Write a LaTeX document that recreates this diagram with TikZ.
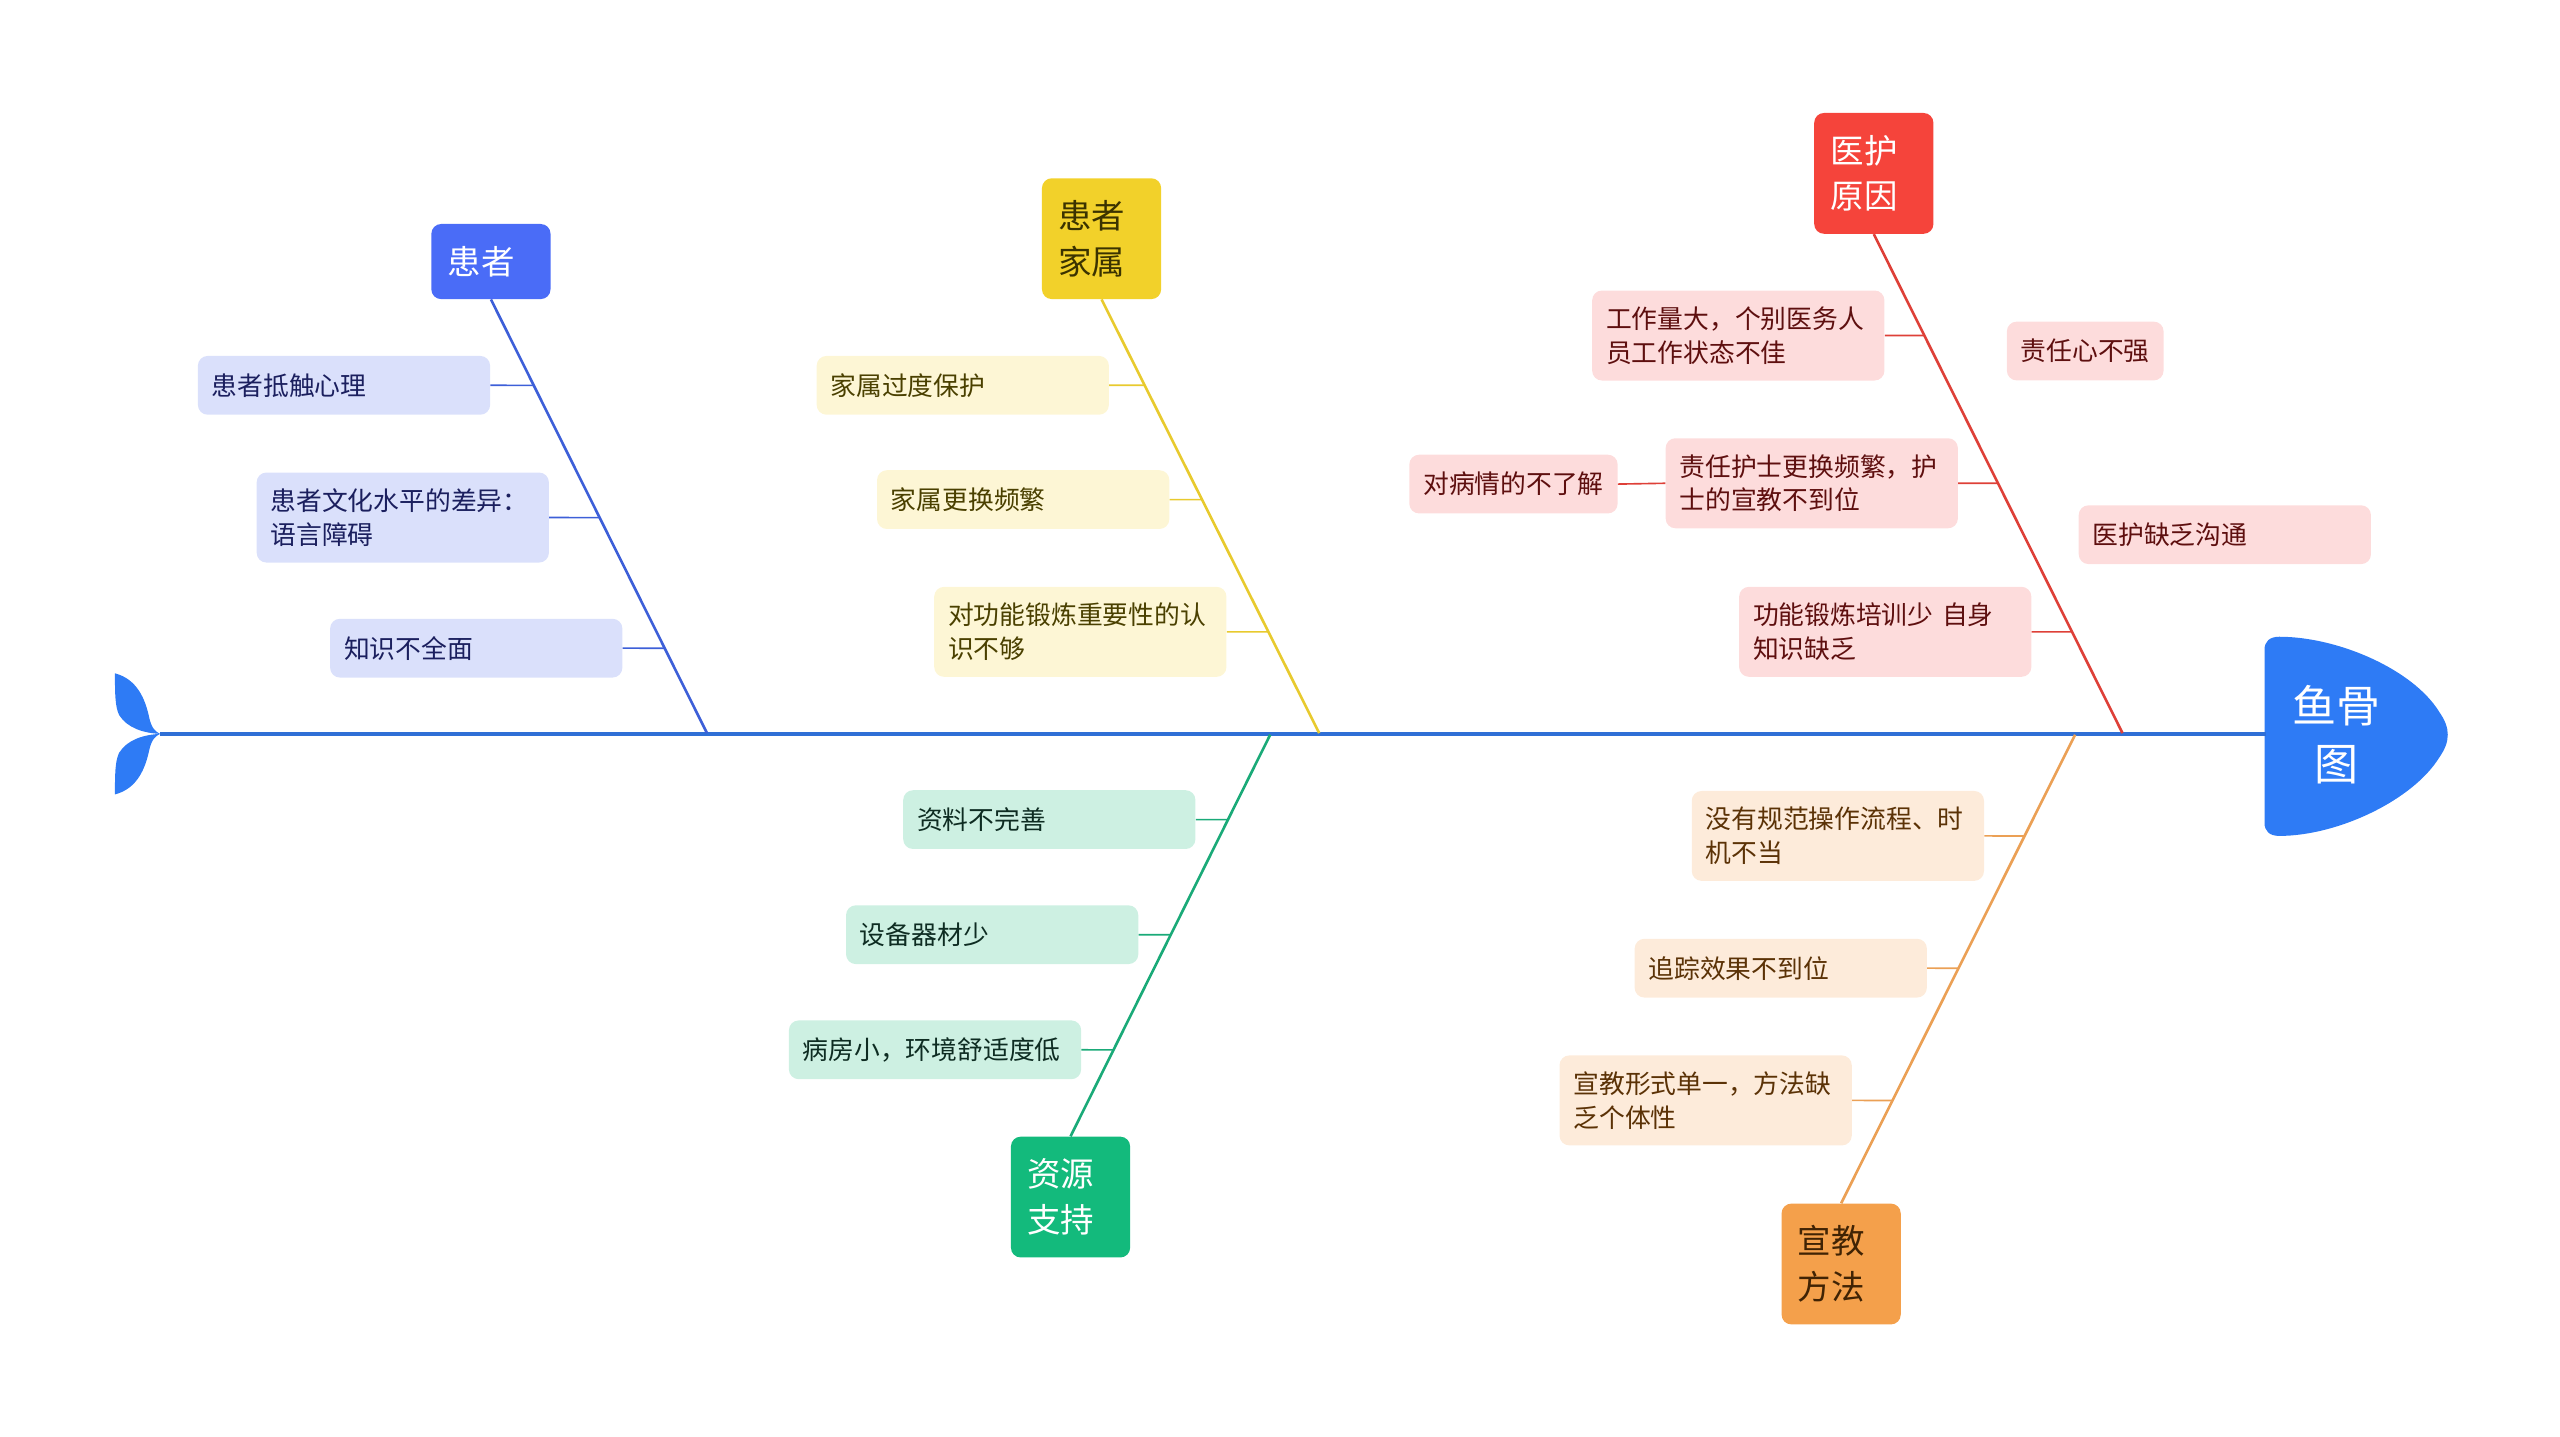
\documentclass[tikz,border=0pt]{standalone}
\usepackage{fontspec}
\setmainfont{Noto Sans CJK SC}
\usepackage{tikz}

\definecolor{spineblue}{HTML}{2F6FD6}
\definecolor{headblue}{HTML}{2E7BF5}
\definecolor{pdark}{HTML}{4A6CF7}
\definecolor{pline}{HTML}{3D5FD8}
\definecolor{plight}{HTML}{DAE0FB}
\definecolor{ptext}{HTML}{1B1F5E}
\definecolor{fdark}{HTML}{F2D12A}
\definecolor{fline}{HTML}{E8CA2E}
\definecolor{flight}{HTML}{FDF6D5}
\definecolor{ftext}{HTML}{4A4000}
\definecolor{ndark}{HTML}{F5443B}
\definecolor{nline}{HTML}{DE4038}
\definecolor{nlight}{HTML}{FDDCDC}
\definecolor{ntext}{HTML}{5E0F0F}
\definecolor{rdark}{HTML}{13BA7C}
\definecolor{rline}{HTML}{1AAA78}
\definecolor{rlight}{HTML}{CDF0E2}
\definecolor{rtext}{HTML}{0E2C22}
\definecolor{edark}{HTML}{F4A04B}
\definecolor{eline}{HTML}{EBA055}
\definecolor{elight}{HTML}{FDEBDA}
\definecolor{etext}{HTML}{5B3206}

\tikzset{
  cat/.style={rounded corners=6pt, anchor=north west, text width=53pt, inner xsep=10pt, align=left, font=\fontsize{20.5}{28}\selectfont},
  cause/.style={rounded corners=6pt, anchor=west, inner xsep=8.5pt, inner ysep=10pt, minimum height=36pt, align=left, font=\fontsize{15.8}{20.5}\selectfont},
  wide/.style={cause, text width=162pt},
  bone/.style={line width=1.6pt},
  twig/.style={line width=1pt}
}

\begin{document}
\begin{tikzpicture}[x=1pt, y=-1pt]
\useasboundingbox (0,0) rectangle (1568,880);
% tail
\fill[headblue] (70.4,412.4) .. controls (84,416) and (89,428) .. (91.5,440) .. controls (93,446) and (95,448) .. (98,449.5) .. controls (88,449) and (78,446) .. (73,438) .. controls (70.5,433) and (70.4,425) .. cycle;
\fill[headblue] (70.4,486.6) .. controls (84,483) and (89,471) .. (91.5,459) .. controls (93,453) and (95,451) .. (98,449.5) .. controls (88,450) and (78,453) .. (73,461) .. controls (70.5,466) and (70.4,474) .. cycle;
% head
\fill[headblue] (1387,398) .. controls (1387,393) and (1390,390) .. (1396,390) .. controls (1432,390) and (1478,410) .. (1494,436) .. controls (1501,446) and (1501,454) .. (1494,464) .. controls (1478,490) and (1432,512) .. (1396,512) .. controls (1390,512) and (1387,509) .. (1387,504) -- cycle;
\node[text=white, align=center, font=\fontsize{27}{35}\selectfont] (head) at (1431,450) {鱼骨\\图};

\coordinate (tail) at (98,449.5);
\coordinate (neck) at (1388,449.5);
\draw[spineblue, line width=2.2pt] (tail) -- (neck);

\coordinate (pfoot) at (433,449);
\coordinate (ffoot) at (808,449);
\coordinate (nfoot) at (1300,449);
\coordinate (rfoot) at (778,450);
\coordinate (efoot) at (1271,450);

% categories
\node[cat, fill=pdark, text=white, minimum height=46pt] (pcat) at (264,137) {患者};
\node[cat, fill=fdark, text=ftext!80!black, minimum height=74pt] (fcat) at (638,109) {患者\\家属};
\node[cat, fill=ndark, text=white, minimum height=74pt] (ncat) at (1111,69) {医护\\原因};
\node[cat, fill=rdark, text=white, minimum height=74pt] (rcat) at (619,696) {资源\\支持};
\node[cat, fill=edark, text=etext!70!black, minimum height=74pt] (ecat) at (1091,737) {宣教\\方法};

\draw[bone, pline] (pcat.south) -- (pfoot);
\draw[bone, fline] (fcat.south) -- (ffoot);
\draw[bone, nline] (ncat.south) -- (nfoot);
\draw[bone, rline] (rcat.north) -- (rfoot);
\draw[bone, eline] (ecat.north) -- (efoot);

% patient
\node[wide, fill=plight, text=ptext] (p1) at (121,236) {患者抵触心理};
\node[wide, fill=plight, text=ptext] (p2) at (157,317) {患者文化水平的差异：\\语言障碍};
\node[wide, fill=plight, text=ptext] (p3) at (202,397) {知识不全面};
\draw[twig, pline] (p1.east) -- (intersection of p1.west--p1.east and pcat.south--pfoot);
\draw[twig, pline] (p2.east) -- (intersection of p2.west--p2.east and pcat.south--pfoot);
\draw[twig, pline] (p3.east) -- (intersection of p3.west--p3.east and pcat.south--pfoot);

% family
\node[wide, fill=flight, text=ftext] (f1) at (500,236) {家属过度保护};
\node[wide, fill=flight, text=ftext] (f2) at (537,306) {家属更换频繁};
\node[wide, fill=flight, text=ftext] (f3) at (572,387) {对功能锻炼重要性的认\\识不够};
\draw[twig, fline] (f1.east) -- (intersection of f1.west--f1.east and fcat.south--ffoot);
\draw[twig, fline] (f2.east) -- (intersection of f2.west--f2.east and fcat.south--ffoot);
\draw[twig, fline] (f3.east) -- (intersection of f3.west--f3.east and fcat.south--ffoot);

% nursing staff
\node[wide, fill=nlight, text=ntext] (n1) at (975,205.5) {工作量大，个别医务人\\员工作状态不佳};
\node[wide, fill=nlight, text=ntext] (n2) at (1020,296) {责任护士更换频繁，护\\士的宣教不到位};
\node[cause, fill=nlight, text=ntext] (n3) at (863,296.5) {对病情的不了解};
\node[wide, fill=nlight, text=ntext] (n4) at (1065,387) {功能锻炼培训少 自身\\知识缺乏};
\node[cause, fill=nlight, text=ntext] (n5) at (1229,215) {责任心不强};
\node[wide, fill=nlight, text=ntext] (n6) at (1273,327.5) {医护缺乏沟通};
\draw[twig, nline] (n1.east) -- (intersection of n1.west--n1.east and ncat.south--nfoot);
\draw[twig, nline] (n2.east) -- (intersection of n2.west--n2.east and ncat.south--nfoot);
\draw[twig, nline] (n3.east) -- (n2.west);
\draw[twig, nline] (n4.east) -- (intersection of n4.west--n4.east and ncat.south--nfoot);

% resources
\node[wide, fill=rlight, text=rtext] (r1) at (553,502) {资料不完善};
\node[wide, fill=rlight, text=rtext] (r2) at (518,572.5) {设备器材少};
\node[wide, fill=rlight, text=rtext] (r3) at (483,643) {病房小，环境舒适度低};
\draw[twig, rline] (r1.east) -- (intersection of r1.west--r1.east and rcat.north--rfoot);
\draw[twig, rline] (r2.east) -- (intersection of r2.west--r2.east and rcat.north--rfoot);
\draw[twig, rline] (r3.east) -- (intersection of r3.west--r3.east and rcat.north--rfoot);

% education
\node[wide, fill=elight, text=etext] (e1) at (1036,512) {没有规范操作流程、时\\机不当};
\node[wide, fill=elight, text=etext] (e2) at (1001,593) {追踪效果不到位};
\node[wide, fill=elight, text=etext] (e3) at (955,674) {宣教形式单一，方法缺\\乏个体性};
\draw[twig, eline] (e1.east) -- (intersection of e1.west--e1.east and ecat.north--efoot);
\draw[twig, eline] (e2.east) -- (intersection of e2.west--e2.east and ecat.north--efoot);
\draw[twig, eline] (e3.east) -- (intersection of e3.west--e3.east and ecat.north--efoot);
\end{tikzpicture}
\end{document}
